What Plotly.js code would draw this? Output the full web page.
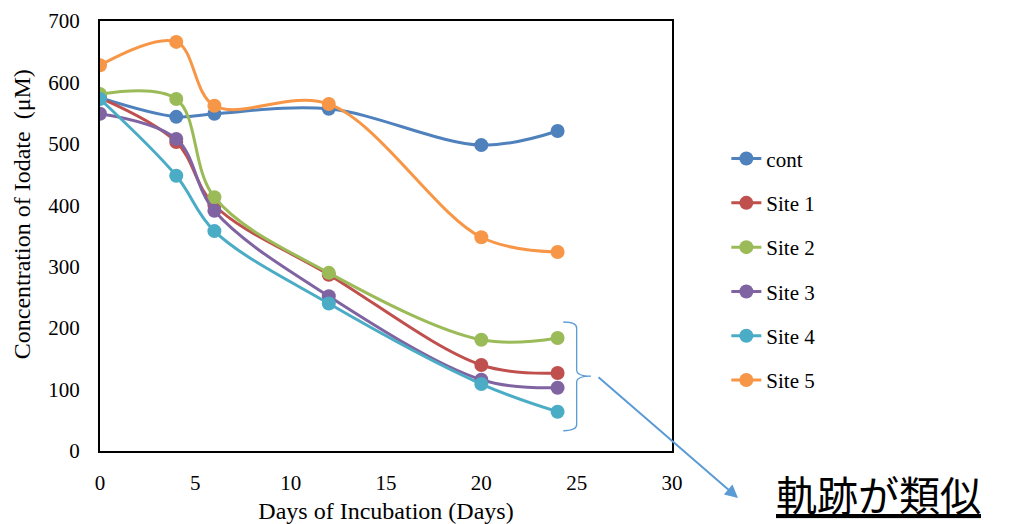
<!DOCTYPE html>
<html>
<head>
<meta charset="utf-8">
<script src="https://cdn.plot.ly/plotly-3.0.1.min.js"></script>
<style>html,body{margin:0;padding:0;background:#fff;}#chart{width:1015px;height:524px;}</style>
</head>
<body>
<div id="chart"></div>
<script>
const days = [0, 4, 6, 12, 20, 24];
const seriesNames = ["cont", "Site 1", "Site 2", "Site 3", "Site 4", "Site 5"];
const cont  = [575, 544, 549, 557, 498, 521];
const site1 = [575, 503, 400, 287, 140, 127];
const site2 = [581, 573, 413, 290, 181, 184];
const site3 = [549, 508, 391, 252, 116, 103];
const site4 = [573, 448, 358, 240, 109, 64];
const site5 = [628, 666, 562, 565, 348, 324];
const colors = ["#4F81BD", "#C0504D", "#9BBB59", "#8064A2", "#4BACC6", "#F79646"];
const xTicks = [0, 5, 10, 15, 20, 25, 30];
const yTicks = [0, 100, 200, 300, 400, 500, 600, 700];
const noteText = "軌跡が類似";

const allSeries = [cont, site1, site2, site3, site4, site5];
const traces = allSeries.map((vals, i) => ({
  x: days, y: vals, name: seriesNames[i], type: "scatter", mode: "lines+markers",
  legendgroup: "g" + i,
  line: {color: colors[i], width: 3, shape: "spline", smoothing: 1},
  marker: {color: colors[i], size: 14}
}));

const serif = "Liberation Serif, Times New Roman, serif";
const braceColor = "#5B9BD5";

const layout = {
  width: 1015, height: 524,
  margin: {l: 100, r: 343, t: 21, b: 73},
  paper_bgcolor: "#fff", plot_bgcolor: "#fff",
  font: {family: serif, size: 21, color: "#000"},
  showlegend: true,
  legend: {x: 1.095, xanchor: "left", y: 0.727, yanchor: "top",
           font: {family: serif, size: 21, color: "#000"},
           traceorder: "grouped", tracegroupgap: 14, bgcolor: "rgba(0,0,0,0)"},
  xaxis: {range: [0, 30], tickvals: xTicks, ticktext: xTicks.map(String),
          showgrid: false, zeroline: false, showline: true, mirror: true,
          linecolor: "#000", linewidth: 2, ticks: "", ticklabelstandoff: 12,
          tickfont: {family: serif, size: 21, color: "#000"},
          title: {text: "Days of Incubation (Days)", font: {family: serif, size: 24, color: "#000"}, standoff: 12}},
  yaxis: {range: [0, 700], tickvals: yTicks, ticktext: yTicks.map(String),
          showgrid: false, zeroline: false, showline: true, mirror: true,
          linecolor: "#000", linewidth: 2, ticks: "", ticklabelstandoff: 14,
          tickfont: {family: serif, size: 21, color: "#000"}},
  shapes: [{
    type: "path", xref: "x", yref: "y",
    path: "M 24.3,210 Q 25,210 25,200 L 25,132 Q 25,122 25.75,122 Q 25,122 25,112 L 25,43 Q 25,33 24.3,33",
    line: {color: braceColor, width: 1.3}
  }],
  annotations: [
    {xref: "paper", yref: "paper", x: -0.136, y: 0.551, xanchor: "center", yanchor: "middle",
     textangle: -90, showarrow: false, text: "Concentration of Iodate\u00a0 (μM)",
     font: {family: serif, size: 24, color: "#000"}},
    {xref: "paper", yref: "paper", x: 1.1154, y: -0.1093, text: "", showarrow: true,
     axref: "pixel", ayref: "pixel", ax: -141, ay: -122, arrowhead: 2, arrowsize: 1.3,
     arrowwidth: 2, arrowcolor: braceColor, standoff: 0, startstandoff: 0},
    {xref: "paper", yref: "paper", x: 1.18, y: -0.0977, xanchor: "left", yanchor: "middle",
     showarrow: false, text: "<u>" + noteText + "</u>", borderpad: 0,
     font: {family: "Noto Sans CJK JP", size: 41, color: "#000"}}
  ]
};

Plotly.newPlot("chart", traces, layout, {displayModeBar: false, staticPlot: true});
</script>
</body>
</html>
